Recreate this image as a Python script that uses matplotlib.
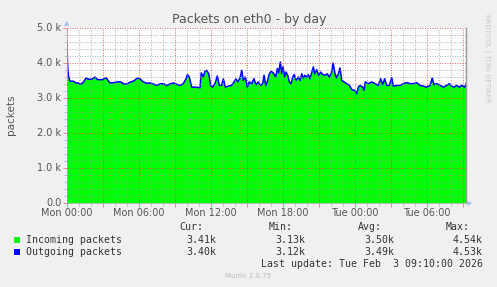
import matplotlib
matplotlib.use("Agg")
import matplotlib.pyplot as plt
from matplotlib.ticker import MultipleLocator, FuncFormatter
from matplotlib.transforms import ScaledTranslation

# ---- data ----
hours = [0.00, 0.06, 0.14, 0.25, 0.53, 0.75, 0.94, 1.14, 1.36, 1.58, 1.86, 2.14, 2.33, 2.53, 2.89,
         3.25, 3.58, 3.92, 4.19, 4.47, 4.75, 4.97, 5.25, 5.58, 5.86, 6.08, 6.36, 6.64, 6.92, 7.19,
         7.47, 7.75, 8.03, 8.31, 8.58, 8.86, 9.14, 9.42, 9.69, 9.92, 10.03, 10.19, 10.39, 10.67,
         10.94, 11.08, 11.19, 11.36, 11.50, 11.64, 11.81, 11.97, 12.14, 12.33, 12.53, 12.69, 12.89,
         13.03, 13.19, 13.44, 13.72, 13.92, 14.08, 14.22, 14.42, 14.56, 14.69, 14.86, 15.03, 15.19,
         15.39, 15.58, 15.75, 15.94, 16.14, 16.31, 16.42, 16.56, 16.69, 16.86, 17.00, 17.19, 17.39,
         17.53, 17.64, 17.78, 17.89, 18.00, 18.14, 18.25, 18.39, 18.53, 18.67, 18.81, 18.94, 19.08,
         19.28, 19.42, 19.56, 19.69, 19.83, 19.97, 20.11, 20.25, 20.39, 20.53, 20.64, 20.81, 20.97,
         21.14, 21.31, 21.50, 21.69, 21.86, 22.06, 22.17, 22.31, 22.44, 22.61, 22.75, 22.89, 23.08,
         23.31, 23.53, 23.72, 23.86, 24.00, 24.14, 24.28, 24.42, 24.64, 24.75, 24.86, 25.11, 25.39,
         25.67, 25.94, 26.14, 26.31, 26.47, 26.64, 26.86, 27.06, 27.19, 27.47, 27.75, 28.03, 28.31,
         28.58, 28.86, 29.14, 29.42, 29.69, 29.97, 30.25, 30.44, 30.58, 30.81, 31.08, 31.36, 31.64,
         31.86, 32.06, 32.25, 32.47, 32.69, 32.89, 33.14, 33.25]

incoming = [4540, 3850, 3610, 3490, 3490, 3440, 3440, 3400, 3460, 3580, 3540, 3560, 3610, 3540, 3530,
            3590, 3440, 3450, 3470, 3470, 3410, 3410, 3460, 3500, 3580, 3560, 3470, 3430, 3440, 3410,
            3370, 3410, 3420, 3370, 3410, 3440, 3400, 3370, 3420, 3560, 3680, 3610, 3320, 3320,
            3310, 3300, 3730, 3610, 3780, 3800, 3700, 3370, 3320, 3420, 3640, 3370, 3370,
            3560, 3320, 3350, 3370, 3470, 3560, 3470, 3580, 3800, 3510, 3610, 3320, 3470,
            3420, 3560, 3390, 3470, 3370, 3420, 3660, 3370, 3470, 3700, 3770, 3730, 3610,
            3850, 3730, 4040, 3700, 3900, 3610, 3750, 3660, 3470, 3420, 3610, 3680, 3510,
            3610, 3510, 3700, 3580, 3660, 3610, 3680, 3560, 3730, 3900, 3700, 3820, 3660,
            3750, 3680, 3660, 3700, 3610, 3750, 4010, 3750, 3580, 3700, 3870, 3510, 3470,
            3420, 3370, 3260, 3230, 3230, 3130, 3320, 3370, 3320, 3230, 3470, 3420, 3470,
            3420, 3370, 3560, 3390, 3560, 3370, 3370, 3590, 3350, 3370, 3370, 3420, 3450,
            3420, 3420, 3450, 3370, 3350, 3320, 3370, 3580, 3390, 3420, 3370, 3320, 3370,
            3420, 3350, 3320, 3370, 3320, 3370, 3320, 3410]

outgoing = [4530, 3840, 3600, 3480, 3480, 3430, 3430, 3390, 3450, 3570, 3530, 3550, 3600, 3530, 3520,
            3580, 3430, 3440, 3460, 3460, 3400, 3400, 3450, 3490, 3570, 3550, 3460, 3420, 3430, 3400,
            3360, 3400, 3410, 3360, 3400, 3430, 3390, 3360, 3410, 3550, 3670, 3600, 3310, 3310,
            3300, 3290, 3720, 3600, 3770, 3790, 3690, 3360, 3310, 3410, 3630, 3360, 3360,
            3550, 3310, 3340, 3360, 3460, 3550, 3460, 3570, 3790, 3500, 3600, 3310, 3460,
            3410, 3550, 3380, 3460, 3360, 3410, 3650, 3360, 3460, 3690, 3760, 3720, 3600,
            3840, 3720, 4030, 3690, 3890, 3600, 3740, 3650, 3460, 3410, 3600, 3670, 3500,
            3600, 3500, 3690, 3570, 3650, 3600, 3670, 3550, 3720, 3890, 3690, 3810, 3650,
            3740, 3670, 3650, 3690, 3600, 3740, 4000, 3740, 3570, 3690, 3860, 3500, 3460,
            3410, 3360, 3250, 3220, 3220, 3120, 3310, 3360, 3310, 3220, 3460, 3410, 3460,
            3410, 3360, 3550, 3380, 3550, 3360, 3360, 3580, 3340, 3360, 3360, 3410, 3440,
            3410, 3410, 3440, 3360, 3340, 3310, 3360, 3570, 3380, 3410, 3360, 3310, 3360,
            3410, 3340, 3310, 3360, 3310, 3360, 3310, 3400]

x_tick_hours = [0, 6, 12, 18, 24, 30]
x_tick_labels = ["Mon 00:00", "Mon 06:00", "Mon 12:00", "Mon 18:00", "Tue 00:00", "Tue 06:00"]

legend_names = ["Incoming packets", "Outgoing packets"]
legend_colors = ["#00FF00", "#0000FF"]
stat_headers = ["Cur:", "Min:", "Avg:", "Max:"]
stats = [["3.41k", "3.13k", "3.50k", "4.54k"],
         ["3.40k", "3.12k", "3.49k", "4.53k"]]

title = "Packets on eth0 - by day"
ylabel = "packets"
last_update = "Last update: Tue Feb  3 09:10:00 2026"
footer = "Munin 2.0.75"
side_text = "RRDTOOL / TOBI OETIKER"

# ---- figure ----
W, H = 497, 287
fig = plt.figure(figsize=(W / 100, H / 100), dpi=100, facecolor="#F0F0F0")
L, R, T, B = 67, 466, 28, 203
ax = fig.add_axes([L / W, 1 - B / H, (R - L) / W, (B - T) / H])
ax.set_facecolor("white")

ax.fill_between(hours, incoming, 0, color=legend_colors[0], linewidth=0, zorder=1)
ax.plot(hours, outgoing, color=legend_colors[1], linewidth=1.1, zorder=2)

ax.set_xlim(0, 33.25)
ax.set_ylim(0, 5000)

# grid
ax.xaxis.set_major_locator(MultipleLocator(3))
ax.xaxis.set_minor_locator(MultipleLocator(1))
ax.yaxis.set_major_locator(MultipleLocator(1000))
ax.yaxis.set_minor_locator(MultipleLocator(200))
ax.grid(which="minor", color=(0.6, 0.6, 0.6, 0.32), linestyle=(0, (1, 2)), linewidth=0.6, zorder=3)
ax.grid(which="major", color=(0.9, 0.2, 0.2, 0.5), linestyle=(0, (1, 2)), linewidth=0.6, zorder=3)
ax.set_axisbelow(False)

ax.tick_params(axis="both", which="major", length=3, width=0.6, color=(0.9, 0.3, 0.3, 0.7), labelsize=7,
               labelcolor="#555555", pad=1)
ax.tick_params(axis="both", which="minor", length=2, width=0.6, color=(0.6, 0.6, 0.6, 0.6))
ax.tick_params(axis="x", which="major", labelbottom=False)

# x labels, placed below the axis
px = 5000 / (B - T)
for h, lab in zip(x_tick_hours, x_tick_labels):
    ax.text(h, -10 * px, lab, ha="center", va="center", fontsize=7, color="#555555")

def yfmt(v, pos):
    return "0.0" if v == 0 else f"{v / 1000:.1f} k"
ax.yaxis.set_major_formatter(FuncFormatter(yfmt))
fig.canvas.draw()
for lab in ax.get_yticklabels():
    lab.set_transform(lab.get_transform() + ScaledTranslation(0, 1 / 100, fig.dpi_scale_trans))

ax.spines["top"].set_visible(False)
ax.spines["left"].set_color("#BBBBBB")
ax.spines["bottom"].set_color("#BBBBBB")
ax.spines["left"].set_linewidth(0.6)
ax.spines["bottom"].set_linewidth(0.6)
ax.spines["right"].set_color("#999999")
ax.spines["right"].set_linewidth(1.0)

# axis arrows
fig.text(L / W, 1 - 23 / H, "▲", ha="center", va="center", fontsize=5, color="#B0C4F0")
fig.text(470 / W, 1 - B / H, "▶", ha="center", va="center", fontsize=5, color="#B0C4F0")

fig.text(249 / W, 1 - 19 / H, title, ha="center", va="center", fontsize=9, color="#555555")
fig.text(11 / W, 1 - 115 / H, ylabel, ha="center", va="center", rotation=90, fontsize=7.5, color="#555555")
fig.text(487 / W, 1 - 58 / H, side_text, ha="center", va="center", rotation=270, fontsize=5, color="#C8C8C8")

mono = "DejaVu Sans Mono"
fs = 7.1
hdr_right = [203, 293, 382, 470]
val_right = [216.7, 305.3, 394.3, 482.7]
for hx, hs in zip(hdr_right, stat_headers):
    fig.text(hx / W, 1 - 227 / H, hs, ha="right", va="center", family=mono, fontsize=fs, color="#333333")
for i, (name, col) in enumerate(zip(legend_names, legend_colors)):
    yy = 240 + 12 * i
    fig.patches.append(plt.Rectangle((14 / W, 1 - (yy + 3) / H), 6 / W, 6 / H, transform=fig.transFigure,
                                     facecolor=col, edgecolor="none"))
    fig.text(26.5 / W, 1 - yy / H, name, ha="left", va="center", family=mono, fontsize=fs, color="#333333")
    for vx, vs in zip(val_right, stats[i]):
        fig.text(vx / W, 1 - yy / H, vs, ha="right", va="center", family=mono, fontsize=fs, color="#333333")

fig.text(482.7 / W, 1 - 264 / H, last_update, ha="right", va="center", family=mono, fontsize=fs, color="#333333")
fig.text(248 / W, 1 - 276 / H, footer, ha="center", va="center", fontsize=5, color="#BBBBBB")

fig.savefig("out.png", dpi=100, facecolor=fig.get_facecolor())
